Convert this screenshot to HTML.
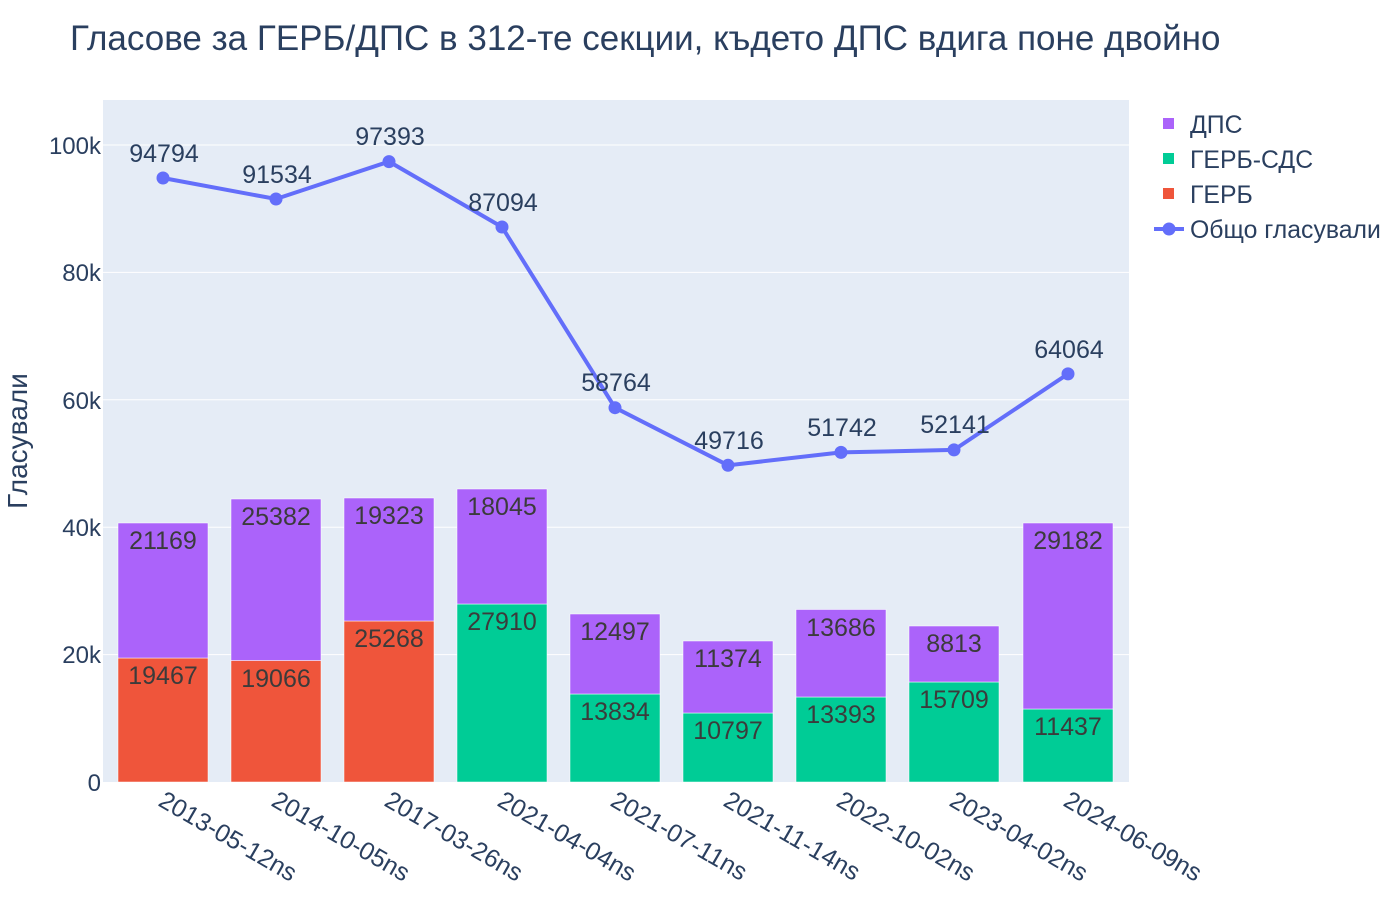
<!DOCTYPE html>
<html><head><meta charset="utf-8"><style>body{margin:0;background:#fff}svg{display:block;font-family:"Liberation Sans",Arial,sans-serif}</style></head>
<body>
<svg width="1400" height="900" viewBox="0 0 1400 900" xmlns="http://www.w3.org/2000/svg">
<rect x="103" y="100" width="1026" height="682" fill="#E5ECF6"/>
<g stroke="#fff" stroke-width="1">
<line x1="103" x2="1129" y1="654.6" y2="654.6"/>
<line x1="103" x2="1129" y1="527.2" y2="527.2"/>
<line x1="103" x2="1129" y1="399.8" y2="399.8"/>
<line x1="103" x2="1129" y1="272.4" y2="272.4"/>
<line x1="103" x2="1129" y1="145" y2="145"/>
</g>
<g font-size="24" fill="#2a3f5f" text-anchor="end">
<text x="101" y="791">0</text>
<text x="101" y="663">20k</text>
<text x="101" y="536">40k</text>
<text x="101" y="409">60k</text>
<text x="101" y="281">80k</text>
<text x="101" y="154">100k</text>
</g>
<text transform="translate(27,441) rotate(-90)" font-size="28" fill="#2a3f5f" text-anchor="middle">Гласували</text>
<text x="70" y="50" font-size="35" fill="#2a3f5f">Гласове за ГЕРБ/ДПС в 312-те секции, където ДПС вдига поне двойно</text>
<g stroke="#fff" stroke-width="0.5">
<rect x="118" y="658" width="90" height="124" fill="#EF553B"/><rect x="118" y="523" width="90" height="135" fill="#AB63FA"/>
<rect x="231" y="660.5" width="90" height="121.5" fill="#EF553B"/><rect x="231" y="499" width="90" height="161.5" fill="#AB63FA"/>
<rect x="344" y="621" width="90" height="161" fill="#EF553B"/><rect x="344" y="498" width="90" height="123" fill="#AB63FA"/>
<rect x="457" y="604" width="90" height="178" fill="#00CC96"/><rect x="457" y="489" width="90" height="115" fill="#AB63FA"/>
<rect x="570" y="694" width="90" height="88" fill="#00CC96"/><rect x="570" y="614" width="90" height="80" fill="#AB63FA"/>
<rect x="683" y="713" width="90" height="69" fill="#00CC96"/><rect x="683" y="641" width="90" height="72" fill="#AB63FA"/>
<rect x="796" y="697" width="90" height="85" fill="#00CC96"/><rect x="796" y="609.5" width="90" height="87.5" fill="#AB63FA"/>
<rect x="909" y="682" width="90" height="100" fill="#00CC96"/><rect x="909" y="626" width="90" height="56" fill="#AB63FA"/>
<rect x="1023" y="709" width="90" height="73" fill="#00CC96"/><rect x="1023" y="523" width="90" height="186" fill="#AB63FA"/>
</g>
<g font-size="25" fill="#3b3b3b" text-anchor="middle">
<text x="163" y="684">19467</text><text x="163" y="549">21169</text>
<text x="276" y="687">19066</text><text x="276" y="525">25382</text>
<text x="389" y="647">25268</text><text x="389" y="524">19323</text>
<text x="502" y="630">27910</text><text x="502" y="515">18045</text>
<text x="615" y="720">13834</text><text x="615" y="640">12497</text>
<text x="728" y="739">10797</text><text x="728" y="667">11374</text>
<text x="841" y="723">13393</text><text x="841" y="636">13686</text>
<text x="954" y="708">15709</text><text x="954" y="652">8813</text>
<text x="1068" y="735">11437</text><text x="1068" y="549">29182</text>
</g>
<polyline fill="none" stroke="#636EFA" stroke-width="4" points="163,178 276,199 389,161.6 502,227 615,407.7 728,465.3 841,452.4 954,449.9 1068,373.9"/>
<g fill="#636EFA">
<circle cx="163" cy="178" r="6.5"/><circle cx="276" cy="199" r="6.5"/><circle cx="389" cy="161.6" r="6.5"/><circle cx="502" cy="227" r="6.5"/><circle cx="615" cy="407.7" r="6.5"/><circle cx="728" cy="465.3" r="6.5"/><circle cx="841" cy="452.4" r="6.5"/><circle cx="954" cy="449.9" r="6.5"/><circle cx="1068" cy="373.9" r="6.5"/>
</g>
<g font-size="25" fill="#2a3f5f" text-anchor="middle">
<text x="164" y="162">94794</text><text x="277" y="183">91534</text><text x="390" y="145">97393</text><text x="503" y="211">87094</text><text x="616" y="391">58764</text><text x="729" y="449">49716</text><text x="842" y="436">51742</text><text x="955" y="433">52141</text><text x="1069" y="358">64064</text>
</g>
<g font-size="25" fill="#2a3f5f">
<text transform="translate(157,805) rotate(30)">2013-05-12ns</text>
<text transform="translate(270,805) rotate(30)">2014-10-05ns</text>
<text transform="translate(383,805) rotate(30)">2017-03-26ns</text>
<text transform="translate(496,805) rotate(30)">2021-04-04ns</text>
<text transform="translate(609,805) rotate(30)">2021-07-11ns</text>
<text transform="translate(722,805) rotate(30)">2021-11-14ns</text>
<text transform="translate(835,805) rotate(30)">2022-10-02ns</text>
<text transform="translate(948,805) rotate(30)">2023-04-02ns</text>
<text transform="translate(1062,805) rotate(30)">2024-06-09ns</text>
</g>
<g font-size="24.8" fill="#2a3f5f">
<rect x="1163" y="118" width="11" height="11" fill="#AB63FA"/><text x="1190" y="133">ДПС</text>
<rect x="1163" y="153" width="11" height="11" fill="#00CC96"/><text x="1190" y="168">ГЕРБ-СДС</text>
<rect x="1163" y="188" width="11" height="11" fill="#EF553B"/><text x="1190" y="203">ГЕРБ</text>
<line x1="1154" x2="1184" y1="229" y2="229" stroke="#636EFA" stroke-width="4"/><circle cx="1169" cy="229" r="6.5" fill="#636EFA"/><text x="1190" y="238">Общо гласували</text>
</g>
</svg>
</body></html>
